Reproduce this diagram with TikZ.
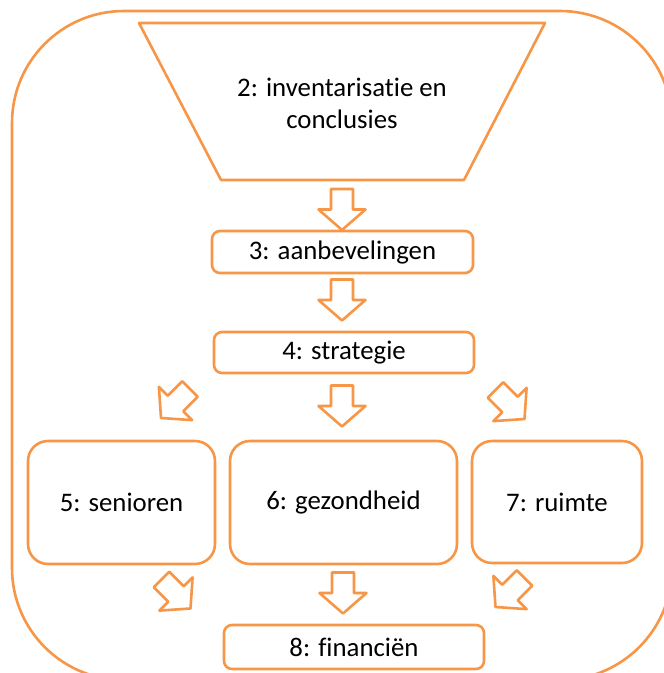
\documentclass[tikz,border=0pt]{standalone}
\usepackage{fontspec}
\setmainfont[Ligatures=CommonOff]{Carlito}
\definecolor{accent}{RGB}{247,150,70}
\tikzset{
  line/.style={draw=accent, line width=2.6pt, line join=round},
  smallbox/.style={line, rounded corners=8pt, fill=white, inner sep=0pt},
  bigbox/.style={line, rounded corners=20pt, fill=white, inner sep=0pt},
  lbl/.style={font=\fontsize{26.8}{32}\selectfont, text=black},
  pics/barrow/.style={code={
    \draw[line, fill=white] (-11,-20.5) -- (11,-20.5) -- (11,0) -- (23.5,0) -- (0,20.5) -- (-23.5,0) -- (-11,0) -- cycle;
  }}
}
\begin{document}
\begin{tikzpicture}[x=1pt, y=-1pt]
\useasboundingbox (0,0) rectangle (664,673);
\clip (0,0) rectangle (664,673);
% outer frame
\draw[line, rounded corners=112pt] (12,11) rectangle (672,680);
% trapezoid
\draw[line] (139,23) -- (545,23) -- (464,180) -- (221,180) -- cycle;
\node[lbl, align=center] (t2) at (342,103) {2: inventarisatie en\\conclusies};
% boxes
\node[smallbox, lbl, minimum width=261pt, minimum height=42pt] (b3) at (342.5,252) {3: aanbevelingen};
\node[smallbox, lbl, minimum width=260pt, minimum height=41pt] (b4) at (344,352.5) {4: strategie};
\node[bigbox, lbl, minimum width=187pt, minimum height=123pt] (b5) at (121.5,502.5) {5: senioren};
\node[bigbox, lbl, minimum width=227pt, minimum height=123pt] (b6) at (343.5,502.5) {6: gezondheid};
\node[bigbox, lbl, minimum width=170pt, minimum height=122pt] (b7) at (557,502) {7: ruimte};
\node[smallbox, lbl, minimum width=260pt, minimum height=44pt] (b8) at (354,647) {8: financiën};
% block arrows
\pic at (342,209.5) {barrow};
\pic at (342,300) {barrow};
\pic at (342,406) {barrow};
\pic[rotate=-45] at (175.5,403.5) {barrow};
\pic[rotate=45] at (510,404.5) {barrow};
\pic[rotate=45] at (176,594) {barrow};
\pic at (343,593) {barrow};
\pic[rotate=-45] at (510,592.5) {barrow};
\end{tikzpicture}
\end{document}
